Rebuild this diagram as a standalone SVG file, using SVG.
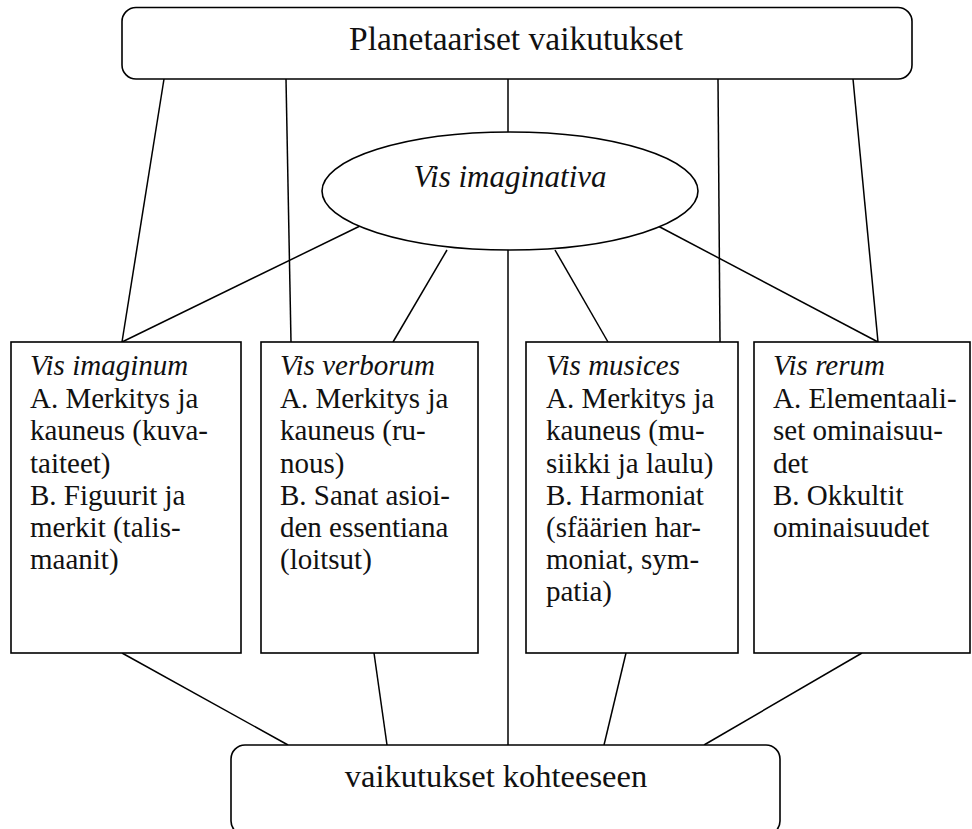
<svg xmlns="http://www.w3.org/2000/svg" width="972" height="829" viewBox="0 0 972 829">
<style>
.shape{fill:#fff;stroke:#000;stroke-width:1.6}
.edge{stroke:#000;stroke-width:1.5;fill:none}
.big{font-size:33.5px;text-anchor:middle}
.big2{font-size:32.5px;text-anchor:middle}
.ell{font-size:31px;font-style:italic;text-anchor:middle}
.body{font-size:29px}
.it{font-style:italic}
</style>
<g id="connectors">
<line class="edge" x1="164" y1="79" x2="122" y2="342"/>
<line class="edge" x1="286" y1="79" x2="291" y2="342"/>
<line class="edge" x1="508" y1="79" x2="508" y2="745"/>
<line class="edge" x1="718" y1="79" x2="720" y2="342"/>
<line class="edge" x1="853" y1="79" x2="878" y2="342"/>
<line class="edge" x1="360" y1="226" x2="122" y2="342"/>
<line class="edge" x1="447" y1="250" x2="393" y2="342"/>
<line class="edge" x1="555" y1="250" x2="608" y2="342"/>
<line class="edge" x1="658" y1="226" x2="878" y2="342"/>
<line class="edge" x1="122" y1="653" x2="288" y2="745"/>
<line class="edge" x1="374" y1="653" x2="387" y2="745"/>
<line class="edge" x1="626" y1="653" x2="604" y2="745"/>
<line class="edge" x1="862" y1="653" x2="704" y2="745"/>
</g>
<g font-family="'Liberation Serif', 'DejaVu Serif', serif" fill="#111">
<g id="top">
<rect class="shape" x="122" y="7.5" width="790" height="71.5" rx="14"/>
<text class="big" x="516" y="50">Planetaariset vaikutukset</text>
</g>
<g id="ellipse">
<ellipse class="shape" cx="510" cy="191" rx="188" ry="59"/>
<text class="ell" x="510" y="187">Vis imaginativa</text>
</g>
<g id="box1">
<rect class="shape" x="11" y="342" width="230" height="311"/>
<text class="body" x="30" y="375"><tspan class="it">Vis imaginum</tspan><tspan x="30" y="408">A. Merkitys ja</tspan><tspan x="30" y="440">kauneus (kuva-</tspan><tspan x="30" y="473">taiteet)</tspan><tspan x="30" y="505">B. Figuurit ja</tspan><tspan x="30" y="537">merkit (talis-</tspan><tspan x="30" y="569">maanit)</tspan></text>
</g>
<g id="box2">
<rect class="shape" x="261" y="342" width="217" height="311"/>
<text class="body" x="280" y="375"><tspan class="it">Vis verborum</tspan><tspan x="280" y="408">A. Merkitys ja</tspan><tspan x="280" y="440">kauneus (ru-</tspan><tspan x="280" y="473">nous)</tspan><tspan x="280" y="505">B. Sanat asioi-</tspan><tspan x="280" y="537">den essentiana</tspan><tspan x="280" y="569">(loitsut)</tspan></text>
</g>
<g id="box3">
<rect class="shape" x="526" y="342" width="212" height="311"/>
<text class="body" x="546" y="375"><tspan class="it">Vis musices</tspan><tspan x="546" y="408">A. Merkitys ja</tspan><tspan x="546" y="440">kauneus (mu-</tspan><tspan x="546" y="473">siikki ja laulu)</tspan><tspan x="546" y="505">B. Harmoniat</tspan><tspan x="546" y="537">(sfäärien har-</tspan><tspan x="546" y="569">moniat, sym-</tspan><tspan x="546" y="601">patia)</tspan></text>
</g>
<g id="box4">
<rect class="shape" x="754" y="342" width="216" height="311"/>
<text class="body" x="773" y="375"><tspan class="it">Vis rerum</tspan><tspan x="773" y="408">A. Elementaali-</tspan><tspan x="773" y="440">set ominaisuu-</tspan><tspan x="773" y="473">det</tspan><tspan x="773" y="505">B. Okkultit</tspan><tspan x="773" y="537">ominaisuudet</tspan></text>
</g>
<g id="bottom">
<rect class="shape" x="231" y="745" width="549" height="90" rx="14"/>
<text class="big2" x="496" y="787">vaikutukset kohteeseen</text>
</g>
</g>
</svg>
